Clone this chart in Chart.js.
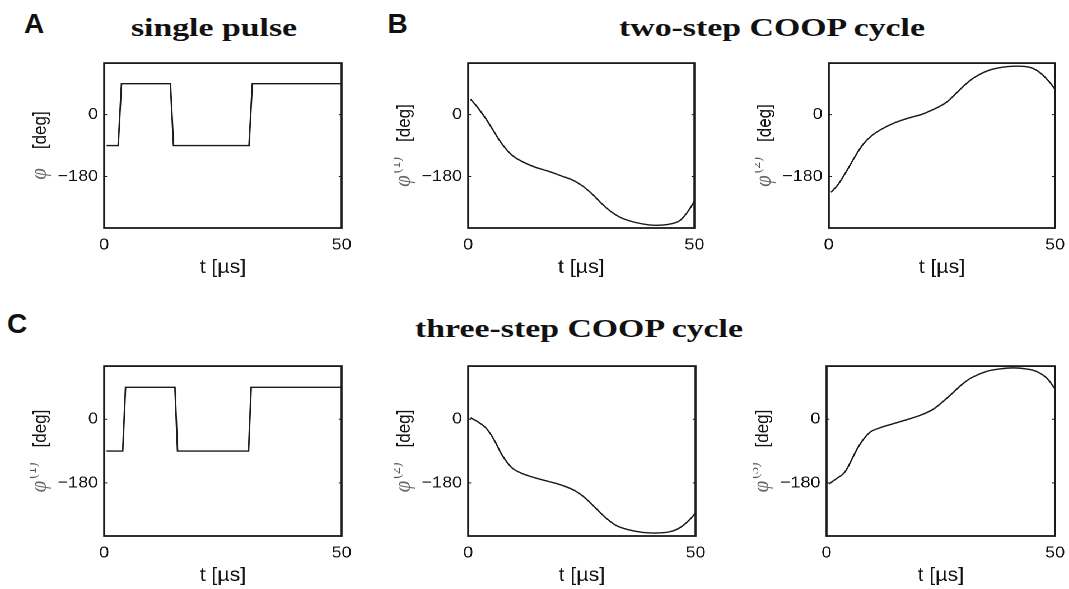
<!DOCTYPE html>
<html><head><meta charset="utf-8">
<script src="https://cdn.jsdelivr.net/npm/chart.js@4.4.1/dist/chart.umd.min.js"></script>
<style>
html,body{margin:0;padding:0;background:#fff;width:1069px;height:589px;overflow:hidden;}
#fig{position:absolute;left:0;top:0;width:954.5px;height:589px;transform:scaleX(1.12);transform-origin:0 0;}
.wrap{position:absolute;}
.title{position:absolute;width:500px;text-align:center;font-family:"Liberation Serif",serif;font-weight:bold;font-size:26px;line-height:26px;color:#111;white-space:nowrap;transform:scaleX(1.3);transform-origin:50% 50%;}
.letter{position:absolute;font-family:"Liberation Sans",Arial,sans-serif;font-weight:bold;font-size:28px;line-height:28px;color:#111;}
</style></head>
<body>
<div class="letter" style="left:24px;top:9.6px">A</div>
<div class="letter" style="left:387.5px;top:9.6px">B</div>
<div class="letter" style="left:7px;top:309.6px">C</div>
<div class="title" style="left:-36.5px;top:15px">single pulse</div>
<div class="title" style="left:522px;top:15px">two-step COOP cycle</div>
<div class="title" style="left:328.7px;top:316px">three-step COOP cycle</div>
<div id="fig"></div>
<script>
// ---------------- data ----------------
const yTickValues = [-180, 0];
const yTickLabels = ['\u2212180', '0'];
const xTickValues = [0, 50];
const xTickLabels = ['0', '50'];
const yMin = -330, yMax = 150;
const xMin = 0, xMax = 50;
const xLabel = 't [\u00b5s]';

// A: single pulse (phase steps)
const singleT   = [0.5, 2.95, 3.65, 13.95, 14.6, 30.5, 31.2, 50];
const singlePhi = [-90, -90, 90, 90, -90, -90, 90, 90];

// B: two-step COOP cycle
const two1T   = [0.5, 1.85, 3.7, 5.55, 7.4, 9.6, 11.85, 14.8, 17.8, 20.7, 23, 25.2, 27.4, 29.6, 31.85, 34.1, 37, 40, 42.2, 44.4, 46.7, 48.5, 50];
const two1Phi = [45, 25, -8, -46, -84, -117, -136, -153, -165, -179, -190, -207, -231, -260, -285, -302, -314, -321, -322, -319, -309, -283, -252];
const two2T   = [0.5, 2.07, 3.9, 5.8, 7.6, 9.5, 11.7, 14.7, 17.6, 20.6, 23.55, 25.8, 28, 30.2, 32.4, 35.4, 38.4, 41.3, 44.3, 46.5, 48.7, 50];
const two2Phi = [-226, -203, -165, -122, -86, -61, -42, -23, -10, 1, 18, 34, 60, 88, 110, 129, 138, 141, 138, 124, 96, 74];

// C: three-step COOP cycle
const three1T   = [0.5, 3.9, 4.5, 14.9, 15.45, 30.4, 30.95, 50];
const three1Phi = [-90, -90, 90, 90, -90, -90, 90, 90];
const three2T   = [0.5, 2.2, 4.06, 5.9, 7.4, 9.6, 11.8, 14.8, 17.7, 20.7, 23.6, 25.85, 28.1, 30.3, 32.5, 35.45, 38.4, 41.4, 44.3, 46.5, 48.7, 50];
const three2Phi = [4, -8, -27, -63, -100, -137, -153, -166, -176, -187, -203, -224, -252, -279, -300, -313, -320, -321.5, -318, -307, -284, -265];
const three3T   = [0.5, 2.05, 3.9, 5.7, 7.2, 9.4, 11.55, 14.5, 17.4, 20.3, 23.2, 25.4, 27.6, 29.8, 32, 35, 37.9, 40.8, 43.7, 45.9, 48.1, 50];
const three3Phi = [-183, -169, -151, -109, -73, -38, -25, -13, -2, 10, 27, 49, 74, 100, 119, 135, 142, 145, 142, 135, 117, 86];

// ---------------- layout ----------------
const S = 1.12; // horizontal stretch of the figure
const panels = [
  {box:[104.5, 60, 342, 228],    t:singleT, phi:singlePhi, smooth:false, sup:''},
  {box:[468, 60, 694, 228],      t:two1T,   phi:two1Phi,   smooth:true,  sup:'(1)'},
  {box:[828.5, 60, 1055, 228],   t:two2T,   phi:two2Phi,   smooth:true,  sup:'(2)'},
  {box:[104.5, 362.5, 341.5, 535.5], t:three1T, phi:three1Phi, smooth:false, sup:'(1)'},
  {box:[468, 362.5, 695, 535.5], t:three2T, phi:three2Phi, smooth:true,  sup:'(2)'},
  {box:[827, 362.5, 1055.5, 535.5], t:three3T, phi:three3Phi, smooth:true, sup:'(3)'}
];

const SANS = '"Liberation Sans", Arial, sans-serif';
const SERIF = '"Liberation Serif", "Times New Roman", serif';

const framePlugin = {
  id: 'frame',
  afterDatasetsDraw(chart) {
    const {ctx, chartArea: a, scales: {y}} = chart;
    ctx.save();
    ctx.strokeStyle = '#1a1a1a';
    ctx.lineWidth = 1.8;
    ctx.strokeRect(a.left, a.top, a.right - a.left, a.bottom - a.top);
    ctx.lineWidth = 1;
    yTickValues.forEach(v => {
      const py = y.getPixelForValue(v);
      ctx.beginPath();
      ctx.moveTo(a.left, py); ctx.lineTo(a.left + 2.6, py);
      ctx.moveTo(a.right, py); ctx.lineTo(a.right - 2.6, py);
      ctx.stroke();
    });
    ctx.restore();
  }
};

const ylabelPlugin = {
  id: 'ylabel',
  afterDraw(chart) {
    const sup = chart.options.plugins.ylabel.sup;
    const {ctx, chartArea: a} = chart;
    ctx.save();
    ctx.translate(a.left - 52, (a.top + a.bottom) / 2);
    ctx.rotate(-Math.PI / 2);
    const fPhi = 'italic 21px ' + SERIF;
    const fSup = '14px ' + SERIF;
    const fDeg = '17px ' + SANS;
    ctx.font = fPhi; const wPhi = ctx.measureText('\u03c6').width;
    ctx.font = fSup; const wSup = sup ? ctx.measureText(sup).width + 2 : 0;
    ctx.font = fDeg; const wDeg = ctx.measureText('[deg]').width;
    const gap = sup ? 15 : 19;
    const total = wPhi + wSup + gap + wDeg;
    let x = -total / 2;
    const base = 0;
    ctx.textBaseline = 'alphabetic';
    ctx.textAlign = 'left';
    ctx.fillStyle = '#6a6a6a';
    ctx.font = fPhi; ctx.fillText('\u03c6', x, base); x += wPhi;
    if (sup) { ctx.fillStyle = '#555'; ctx.font = fSup; ctx.fillText(sup, x + 2, base - 9); x += wSup; }
    x += gap;
    ctx.fillStyle = '#111';
    ctx.font = fDeg; ctx.fillText('[deg]', x, base);
    ctx.restore();
  }
};

const fig = document.getElementById('fig');
panels.forEach(p => {
  const L = p.box[0] / S, R = p.box[2] / S, T = p.box[1], B = p.box[3];
  const padL = 66, padT = 12, padR = 18, padB = 60;
  const w = Math.round(R - L) + padL + padR;
  const h = Math.round(B - T) + padT + padB;
  const wrap = document.createElement('div');
  wrap.className = 'wrap';
  wrap.style.left = (L - padL) + 'px';
  wrap.style.top = (T - padT) + 'px';
  wrap.style.width = w + 'px';
  wrap.style.height = h + 'px';
  const cv = document.createElement('canvas');
  wrap.appendChild(cv);
  fig.appendChild(wrap);
  new Chart(cv, {
    type: 'line',
    data: {datasets: [{
      data: p.t.map((t, i) => ({x: t, y: p.phi[i]})),
      borderColor: '#1a1a1a', borderWidth: 1.4, pointRadius: 0, fill: false,
      tension: p.smooth ? 0.4 : 0
    }]},
    options: {
      responsive: true, maintainAspectRatio: false, animation: false,
      devicePixelRatio: 2, events: [],
      layout: {padding: {left: 0, top: padT, right: padR, bottom: 0}, autoPadding: false},
      plugins: {legend: {display: false}, tooltip: {enabled: false}, ylabel: {sup: p.sup}},
      scales: {
        x: {
          type: 'linear', min: xMin, max: xMax,
          afterBuildTicks: s => { s.ticks = xTickValues.map(v => ({value: v})); },
          afterFit: s => { s.height = padB; },
          grid: {display: false, drawTicks: false}, border: {display: false},
          ticks: {padding: 7.5, autoSkip: false, maxRotation: 0, color: '#111',
                  font: {family: SANS, size: 16},
                  callback: (v, i) => xTickLabels[i]},
          title: {display: true, text: xLabel, color: '#111',
                  font: {family: SANS, size: 19}, padding: {top: 0, bottom: 8.6}}
        },
        y: {
          type: 'linear', min: yMin, max: yMax,
          afterBuildTicks: s => { s.ticks = yTickValues.map(v => ({value: v})); },
          afterFit: s => { s.width = padL; },
          grid: {display: false, drawTicks: false}, border: {display: false},
          ticks: {padding: 5.5, autoSkip: false, color: '#111',
                  font: {family: SANS, size: 16},
                  callback: (v, i) => yTickLabels[i]}
        }
      }
    },
    plugins: [framePlugin, ylabelPlugin]
  });
});
</script>
</body></html>
